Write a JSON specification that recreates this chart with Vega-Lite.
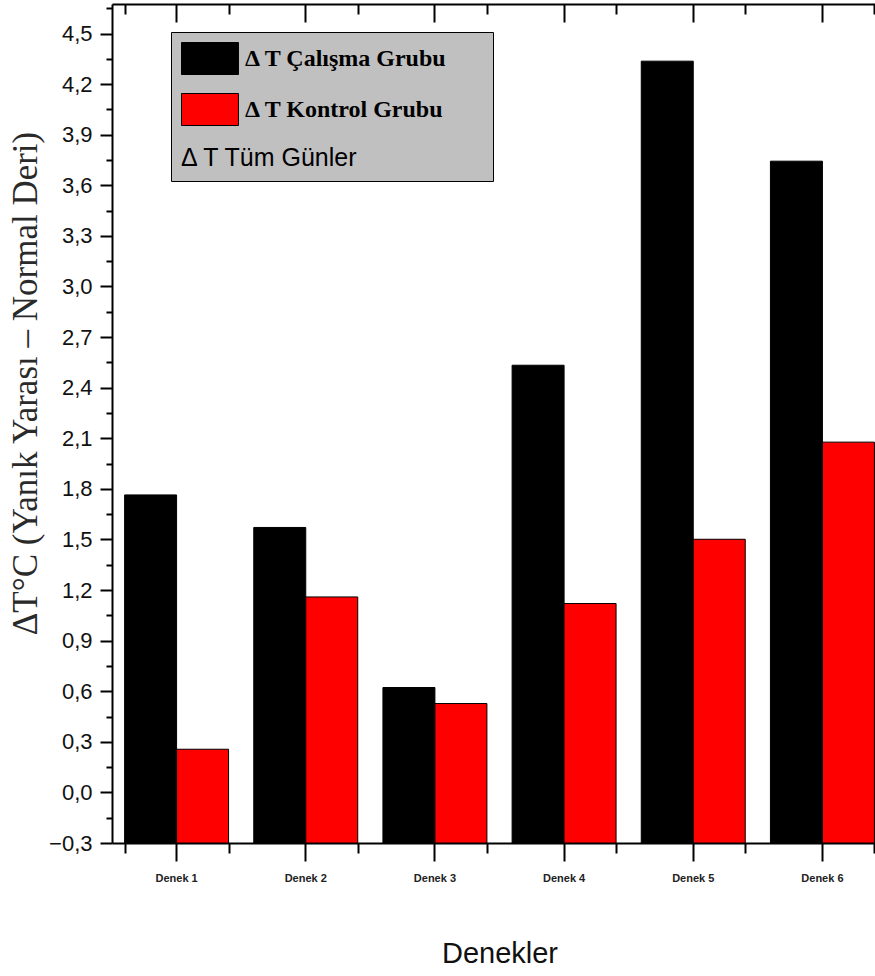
{
  "$schema": "https://vega.github.io/schema/vega-lite/v6.json",
  "autosize": {"type": "none"},
  "padding": {"left": 112, "top": 4, "right": 0, "bottom": 133},
  "width": 763,
  "height": 839,
  "background": "#ffffff",
  "config": {"view": {"stroke": null}, "axis": {"grid": false}},
  "data": {"values": [
    {"Denek": "Denek 1", "grup": "Δ T Çalışma Grubu", "deger": 1.764},
    {"Denek": "Denek 1", "grup": "Δ T Kontrol Grubu", "deger": 0.256},
    {"Denek": "Denek 2", "grup": "Δ T Çalışma Grubu", "deger": 1.571},
    {"Denek": "Denek 2", "grup": "Δ T Kontrol Grubu", "deger": 1.159},
    {"Denek": "Denek 3", "grup": "Δ T Çalışma Grubu", "deger": 0.622},
    {"Denek": "Denek 3", "grup": "Δ T Kontrol Grubu", "deger": 0.527},
    {"Denek": "Denek 4", "grup": "Δ T Çalışma Grubu", "deger": 2.533},
    {"Denek": "Denek 4", "grup": "Δ T Kontrol Grubu", "deger": 1.120},
    {"Denek": "Denek 5", "grup": "Δ T Çalışma Grubu", "deger": 4.336},
    {"Denek": "Denek 5", "grup": "Δ T Kontrol Grubu", "deger": 1.501},
    {"Denek": "Denek 6", "grup": "Δ T Çalışma Grubu", "deger": 3.743},
    {"Denek": "Denek 6", "grup": "Δ T Kontrol Grubu", "deger": 2.077}
  ]},
  "resolve": {"axis": {"x": "independent", "y": "independent"}},
  "layer": [
    {
      "mark": {"type": "bar", "stroke": "#000000", "strokeWidth": 1},
      "encoding": {
        "x": {
          "field": "Denek", "type": "nominal",
          "scale": {"range": [0, 775], "paddingInner": 0.195, "paddingOuter": 0.0975},
          "axis": {
            "orient": "bottom", "labelAngle": 0,
            "domain": true, "domainColor": "#000000", "domainWidth": 2,
            "ticks": true, "tickSize": 18, "tickWidth": 2, "tickColor": "#000000",
            "labelFont": "Liberation Sans", "labelFontWeight": "bold", "labelFontSize": 11, "labelColor": "#222222",
            "labelPadding": 11,
            "title": "Denekler", "titleFont": "Liberation Sans", "titleFontSize": 29, "titleFontWeight": "normal", "titleColor": "#111111",
            "titleY": 110, "titleBaseline": "middle"
          }
        },
        "xOffset": {"field": "grup", "type": "nominal", "scale": {"domain": ["Δ T Çalışma Grubu", "Δ T Kontrol Grubu"], "paddingInner": 0}},
        "y": {
          "field": "deger", "type": "quantitative",
          "scale": {"domain": [-0.3, 4.675], "nice": false, "zero": false},
          "axis": {
            "orient": "left",
            "values": [-0.3, 0, 0.3, 0.6, 0.9, 1.2, 1.5, 1.8, 2.1, 2.4, 2.7, 3.0, 3.3, 3.6, 3.9, 4.2, 4.5],
            "labelExpr": "replace(format(datum.value, '.1f'), '.', ',')",
            "domain": true, "domainColor": "#000000", "domainWidth": 2,
            "tickSize": 12, "tickWidth": 2, "tickColor": "#000000",
            "labelFont": "Liberation Sans", "labelFontSize": 22, "labelColor": "#111111", "labelPadding": 8,
            "title": "ΔT°C (Yanık Yarası – Normal Deri)",
            "titleFont": "Liberation Serif", "titleFontSize": 35, "titleFontWeight": "normal", "titleColor": "#2a2a2a",
            "titleAngle": -90, "titleX": -87, "titleY": 379, "titleAlign": "center", "titleBaseline": "middle"
          }
        },
        "y2": {"datum": -0.3},
        "color": {
          "field": "grup", "type": "nominal",
          "scale": {"domain": ["Δ T Çalışma Grubu", "Δ T Kontrol Grubu"], "range": ["#000000", "#ff0000"]},
          "legend": {
            "orient": "none", "legendX": 59, "legendY": 28, "direction": "vertical",
            "fillColor": "#c0c0c0", "strokeColor": "#000000", "padding": 10,
            "symbolType": "M-1,-1H2.56V1H-1Z M17.7,0Z", "symbolSize": 1024,
            "symbolStrokeColor": "#000000", "symbolStrokeWidth": 1, "symbolOpacity": 1,
            "labelFont": "Liberation Serif", "labelFontSize": 24, "labelFontWeight": "bold", "labelColor": "#000000",
            "labelOffset": 31, "labelLimit": 500, "rowPadding": 14,
            "title": "Δ T Tüm Günler", "titleOrient": "bottom", "titleFont": "Liberation Sans",
            "titleFontSize": 25, "titleFontWeight": "normal", "titleColor": "#000000", "titlePadding": 18
          }
        }
      }
    },
    {
      "mark": {"type": "point", "opacity": 0},
      "encoding": {
        "x": {"field": "Denek", "type": "nominal",
          "axis": {"orient": "bottom", "tickBand": "extent", "domain": false, "labels": false, "title": null,
            "tickSize": 10, "tickWidth": 2, "tickColor": "#000000"}},
        "y": {"field": "deger", "type": "quantitative",
          "axis": {"orient": "left", "domain": false, "labels": false, "title": null,
            "values": [-0.15, 0.15, 0.45, 0.75, 1.05, 1.35, 1.65, 1.95, 2.25, 2.55, 2.85, 3.15, 3.45, 3.75, 4.05, 4.35, 4.65],
            "tickSize": 6, "tickWidth": 2, "tickColor": "#000000"}}
      }
    },
    {
      "mark": {"type": "point", "opacity": 0},
      "encoding": {
        "x": {"field": "Denek", "type": "nominal",
          "axis": {"orient": "top", "domain": true, "domainColor": "#000000", "domainWidth": 2, "labels": false, "title": null,
            "tickSize": -18, "tickWidth": 2, "tickColor": "#000000"}},
        "y": {"field": "deger", "type": "quantitative", "axis": null}
      }
    },
    {
      "mark": {"type": "point", "opacity": 0},
      "encoding": {
        "x": {"field": "Denek", "type": "nominal",
          "axis": {"orient": "top", "tickBand": "extent", "domain": false, "labels": false, "title": null,
            "tickSize": -10, "tickWidth": 2, "tickColor": "#000000"}},
        "y": {"field": "deger", "type": "quantitative", "axis": null}
      }
    }
  ]
}
